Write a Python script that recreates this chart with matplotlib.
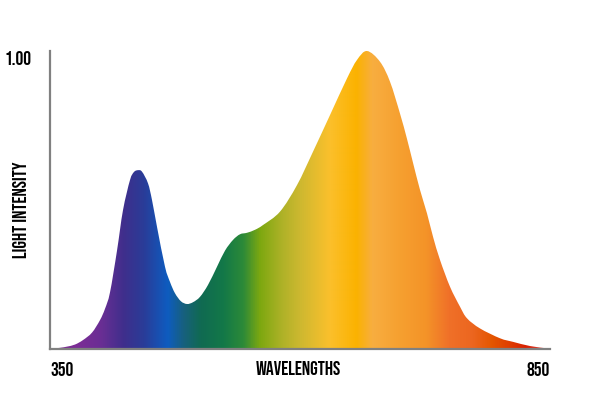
import numpy as np
import matplotlib
matplotlib.use("Agg")
import matplotlib.pyplot as plt
from matplotlib.colors import LinearSegmentedColormap
from matplotlib.path import Path

# Read-off spectrum (wavelength nm, relative intensity)
wavelengths = [350, 360, 367, 375, 383, 392, 400, 405, 410, 417, 423, 430, 434, 438, 442,
               448, 452, 457, 465, 470, 475, 481, 487, 493, 500, 508, 517, 525, 533, 540,
               547, 555, 563, 580, 597, 613, 630, 647, 657, 667, 680, 690, 700, 707, 713,
               720, 727, 733, 740, 750, 760, 767, 780, 800, 813, 830, 847, 850]
intensity = [0.0, 0.004, 0.008, 0.015, 0.03, 0.055, 0.097, 0.135, 0.19, 0.33, 0.466, 0.567,
             0.594, 0.60, 0.595, 0.556, 0.50, 0.41, 0.276, 0.225, 0.187, 0.160, 0.151, 0.157,
             0.175, 0.215, 0.276, 0.330, 0.366, 0.385, 0.390, 0.400, 0.416, 0.461, 0.550, 0.662,
             0.785, 0.908, 0.970, 1.0, 0.964, 0.897, 0.79, 0.705, 0.625, 0.534, 0.455, 0.377,
             0.299, 0.209, 0.142, 0.103, 0.069, 0.036, 0.024, 0.01, 0.002, 0.0]

# Spectrum colour stops (wavelength, colour)
stop_nm = [350, 377, 400, 423, 443, 467, 483, 500, 523, 543, 560, 583, 600, 630, 657,
           673, 700, 727, 750, 773, 793, 813, 827, 850]
stop_col = ["#7B2D8E", "#7B2D96", "#6A2E94", "#3F2F8C", "#2A3C98", "#0E5CC0", "#17607E",
            "#106A52", "#137848", "#2C8A38", "#7DA810", "#B0B228", "#CDB830", "#FBC02C",
            "#FBB200", "#F8AE40", "#F6A030", "#F49328", "#F07028", "#EC6620", "#E45600",
            "#DE3A00", "#D92000", "#E04848"]

x_ticks = [350, 850]
x_tick_labels = ["350", "850"]
y_ticks = [1.0]
y_tick_labels = ["1.00"]

font = ["Bebas Neue", "DejaVu Sans"]
fs = 14

fig = plt.figure(figsize=(6, 4), dpi=100)
ax = fig.add_axes([50/600, 51/400, 500/600, 298/400])

xmin, xmax = 350, 850
pos = [(w - xmin) / (xmax - xmin) for w in stop_nm]
cmap = LinearSegmentedColormap.from_list("spec", list(zip(pos, stop_col)))

# smooth outline through the read points (Catmull-Rom as cubic Bezier segments)
P = np.column_stack([wavelengths, intensity]).astype(float)
verts = [(P[0, 0], 0.0), tuple(P[0])]
codes = [Path.MOVETO, Path.LINETO]
n = len(P)
for i in range(n - 1):
    p0 = P[i - 1] if i > 0 else P[i]
    p1, p2 = P[i], P[i + 1]
    p3 = P[i + 2] if i + 2 < n else P[i + 1]
    c1 = p1 + (p2 - p0) / 6.0
    c2 = p2 - (p3 - p1) / 6.0
    verts += [tuple(c1), tuple(c2), tuple(p2)]
    codes += [Path.CURVE4] * 3
verts += [(P[-1, 0], 0.0), (P[0, 0], 0.0)]
codes += [Path.LINETO, Path.CLOSEPOLY]
path = Path(verts, codes)

grad = np.linspace(0, 1, 1000).reshape(1, -1)
im = ax.imshow(grad, cmap=cmap, aspect="auto", extent=[xmin, xmax, 0, 1],
               interpolation="bilinear", origin="lower", zorder=1)
im.set_clip_path(path, transform=ax.transData)

ax.set_xlim(xmin, xmax)
ax.set_ylim(0, 1.0)
for s in ["top", "right"]:
    ax.spines[s].set_visible(False)
for s in ["left", "bottom"]:
    ax.spines[s].set_color("#808080")
    ax.spines[s].set_linewidth(1.6)
    ax.spines[s].set_zorder(3)

ax.set_xticks(x_ticks)
ax.set_xticklabels(x_tick_labels, fontsize=fs, family=font, fontstretch="condensed")
ax.set_yticks(y_ticks)
ax.set_yticklabels(y_tick_labels, fontsize=fs, family=font, fontstretch="condensed",
                   va="top")
ax.tick_params(axis="both", length=0)
ax.tick_params(axis="x", pad=9)
ax.tick_params(axis="y", pad=13)
xl = ax.get_xticklabels()
xl[0].set_ha("left")
xl[1].set_ha("right")
xl[1].set_x(855)

ax.text(598, -0.065, "WAVELENGTHS", ha="center", va="center", fontsize=fs,
        family=font, fontstretch="condensed", transform=ax.transData, clip_on=False)
ax.text(20/600, 190/400, "LIGHT INTENSITY", ha="center", va="center", rotation=90,
        fontsize=fs, family=font, fontstretch="condensed", transform=fig.transFigure)

fig.savefig("out.png", dpi=100)
